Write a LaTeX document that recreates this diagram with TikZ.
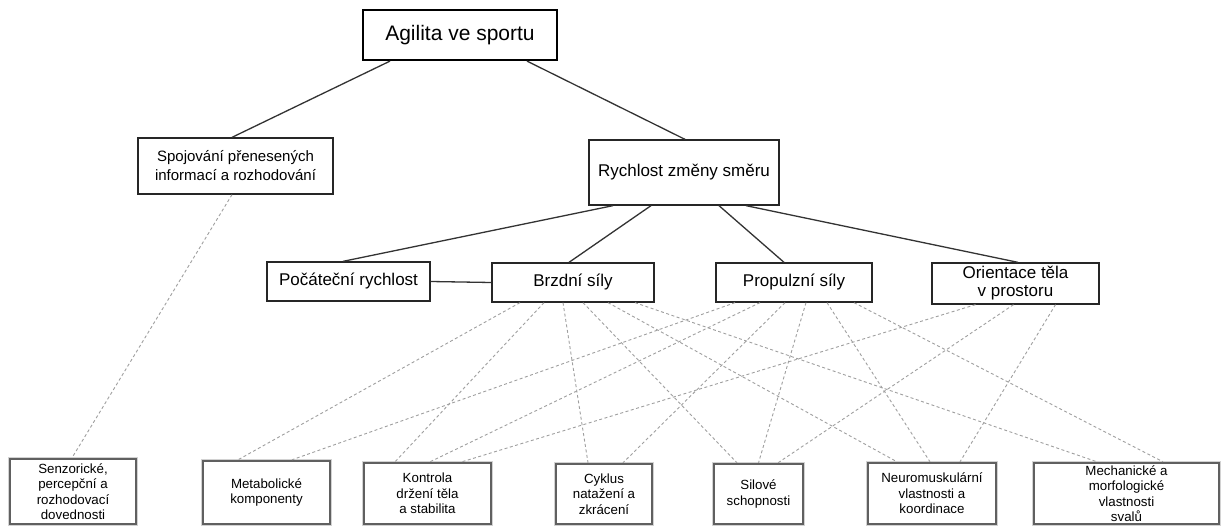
\documentclass[tikz,border=0pt]{standalone}
\usepackage{fontspec}
\setmainfont{Liberation Sans}
\begin{document}
\begin{tikzpicture}[x=1pt,y=-1pt,
  box/.style={draw=black!85, line width=1.3pt, fill=white, align=center, inner sep=0pt, font=\fontsize{17}{18}\selectfont},
  topbox/.style={box, line width=2.2pt, draw=black, font=\fontsize{21}{24}\selectfont},
  midbox/.style={box, font=\fontsize{15}{19}\selectfont},
  leaf/.style={draw=gray!75!black, line width=2.4pt, fill=white, align=center, inner sep=0pt, font=\fontsize{13.3}{15.5}\selectfont},
  leafin/.style={draw=gray!35, line width=0.7pt},
  link/.style={draw=black!80, line width=1.3pt},
  dlink/.style={draw=gray!75, line width=0.9pt, dash pattern=on 3pt off 2.5pt},
]
\fill[white] (0,0) rectangle (1223,527);
\useasboundingbox (0,0) rectangle (1223,527);

% top levels
\node[topbox, minimum width=194pt, minimum height=50pt] (agil) at (460,35) {Agilita ve sportu};
\node[midbox, minimum width=195pt, minimum height=56pt] (spoj) at (235.5,166) {Spojování přenesených\\informací a rozhodování};
\node[box, minimum width=190pt, minimum height=65pt] (rych) at (684,172.5) {Rychlost změny směru};

% third level
\node[box, minimum width=163pt, minimum height=39pt] (poca) at (348.5,281.5) {Počáteční rychlost};
\node[box, minimum width=162pt, minimum height=39pt] (brzd) at (573,282.5) {Brzdní síly};
\node[box, minimum width=156pt, minimum height=39pt] (prop) at (794,282.5) {Propulzní síly};
\node[box, minimum width=167pt, minimum height=41pt] (orie) at (1015.5,283.5) {Orientace těla\\v prostoru};

% leaves
\node[leaf, minimum width=126pt, minimum height=65pt] (senz) at (73,491.5) {Senzorické,\\percepční a\\rozhodovací\\dovednosti};
\node[leaf, minimum width=127pt, minimum height=63pt] (meta) at (266.5,492.5) {Metabolické\\komponenty};
\node[leaf, minimum width=127pt, minimum height=61pt] (kont) at (427.5,493.5) {Kontrola\\držení těla\\a stabilita};
\node[leaf, minimum width=96pt, minimum height=60pt] (cykl) at (604,494) {Cyklus\\natažení a\\zkrácení};
\node[leaf, minimum width=89pt, minimum height=60pt] (silo) at (758.5,494) {Silové\\schopnosti};
\node[leaf, minimum width=128pt, minimum height=61pt] (neur) at (932,493.5) {Neuromuskulární\\vlastnosti a\\koordinace};
\node[leaf, minimum width=185pt, minimum height=61pt] (mech) at (1126.5,493.5) {Mechanické a\\morfologické\\vlastnosti\\svalů};

\foreach \n in {senz,meta,kont,cykl,silo,neur,mech}{
  \draw[leafin] (\n.north west) rectangle (\n.south east);
}

% solid links
\draw[link] ([xshift=-70pt]agil.south) -- ([xshift=-3.5pt]spoj.north);
\draw[link] ([xshift=67pt]agil.south) -- ([xshift=1pt]rych.north);
\draw[link] ([xshift=-71pt]rych.south) -- ([xshift=-5.5pt]poca.north);
\draw[link] ([xshift=-33pt]rych.south) -- ([xshift=-4pt]brzd.north);
\draw[link] ([xshift=35pt]rych.south) -- ([xshift=-10pt]prop.north);
\draw[link] ([xshift=62pt]rych.south) -- ([xshift=2.5pt]orie.north);
\draw[link] (poca.east) -- (brzd.west);

% dashed links
\draw[dlink] ([xshift=-3.5pt]spoj.south) -- ([xshift=-1pt]senz.north);

\draw[dlink] ([xshift=-53pt]brzd.south) -- ([xshift=-28.5pt]meta.north);
\draw[dlink] ([xshift=-29pt]brzd.south) -- ([xshift=-32.5pt]kont.north);
\draw[dlink] ([xshift=-10pt]brzd.south) -- ([xshift=-16pt]cykl.north);
\draw[dlink] ([xshift=10pt]brzd.south) -- ([xshift=-21.5pt]silo.north);
\draw[dlink] ([xshift=35pt]brzd.south) -- ([xshift=-35pt]neur.north);
\draw[dlink] ([xshift=62pt]brzd.south) -- ([xshift=-29.5pt]mech.north);

\draw[dlink] ([xshift=-59pt]prop.south) -- ([xshift=25.5pt]meta.north);
\draw[dlink] ([xshift=-34pt]prop.south) -- ([xshift=2.5pt]kont.north);
\draw[dlink] ([xshift=-9pt]prop.south) -- ([xshift=19pt]cykl.north);
\draw[dlink] ([xshift=12pt]prop.south) -- ([xshift=0pt]silo.north);
\draw[dlink] ([xshift=33pt]prop.south) -- ([xshift=-2pt]neur.north);
\draw[dlink] ([xshift=60pt]prop.south) -- ([xshift=36.5pt]mech.north);

\draw[dlink] ([xshift=-40pt]orie.south) -- ([xshift=34.5pt]kont.north);
\draw[dlink] ([xshift=-2pt]orie.south) -- ([xshift=19.5pt]silo.north);
\draw[dlink] ([xshift=40pt]orie.south) -- ([xshift=28pt]neur.north);
\end{tikzpicture}
\end{document}
